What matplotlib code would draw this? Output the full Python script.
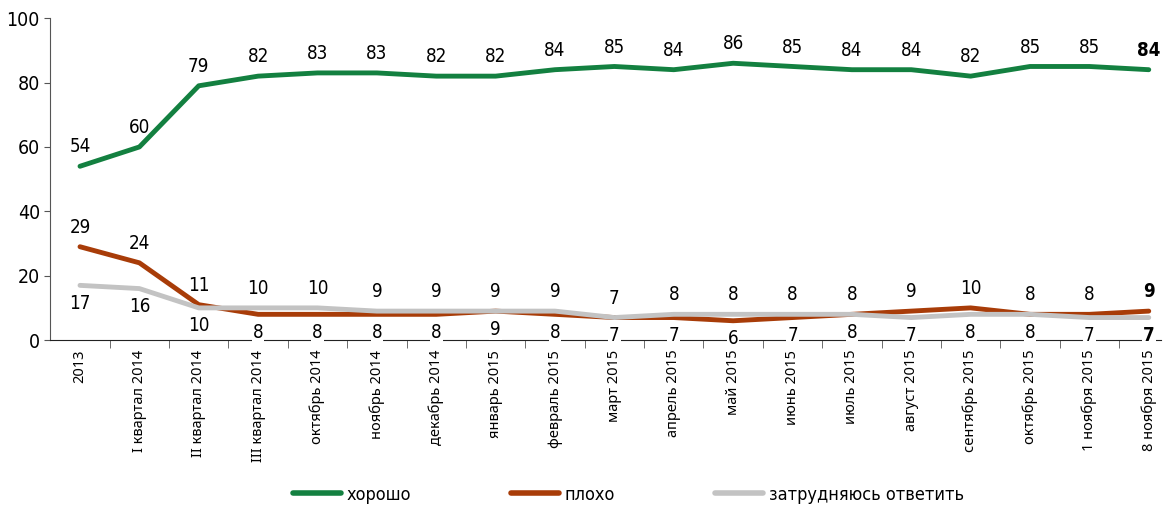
import matplotlib
matplotlib.use("Agg")
import matplotlib.pyplot as plt
import numpy as np

# data
periods = ["2013", "I квартал 2014", "II квартал 2014", "III квартал 2014",
           "октябрь 2014", "ноябрь 2014", "декабрь 2014", "январь 2015",
           "февраль 2015", "март 2015", "апрель 2015", "май 2015",
           "июнь 2015", "июль 2015", "август 2015", "сентябрь 2015",
           "октябрь 2015", "1 ноября 2015", "8 ноября 2015"]
good = [54, 60, 79, 82, 83, 83, 82, 82, 84, 85, 84, 86, 85, 84, 84, 82, 85, 85, 84]
bad = [29, 24, 11, 8, 8, 8, 8, 9, 8, 7, 7, 6, 7, 8, 9, 10, 8, 8, 9]
unsure = [17, 16, 10, 10, 10, 9, 9, 9, 9, 7, 8, 8, 8, 8, 7, 8, 8, 7, 7]

plt.rcParams["font.family"] = ["DejaVu Sans"]
plt.rcParams["font.stretch"] = "condensed"

fig = plt.figure(figsize=(11.7, 5.2), dpi=100)
ax = fig.add_axes([0.043, 0.346, 0.949, 0.619])

x = np.arange(len(periods))
ax.plot(x, good, color="#138040", lw=3.5, label="хорошо", solid_capstyle="round", zorder=3)
ax.plot(x, bad, color="#a83c08", lw=3.5, label="плохо", solid_capstyle="round", zorder=3)
ax.plot(x, unsure, color="#c3c3c3", lw=3.5, label="затрудняюсь ответить",
        solid_capstyle="round", zorder=4)

last = len(periods) - 1
lab = dict(ha="center", va="center", fontsize=13.5, textcoords="offset points",
           zorder=6)
for i in x:
    w = "bold" if i == last else "normal"
    ax.annotate(str(good[i]), (i, good[i]), xytext=(0, 14), fontweight=w, **lab)
    hi, lo = max(bad[i], unsure[i]), min(bad[i], unsure[i])
    ax.annotate(str(hi), (i, hi), xytext=(0, 14), fontweight=w, **lab)
    ax.annotate(str(lo), (i, lo), xytext=(0, -13), fontweight=w,
                bbox=dict(boxstyle="square,pad=0.05", fc="white", ec="none"),
                annotation_clip=False, **lab)

ax.set_ylim(0, 100)
ax.set_xlim(-0.5, 18.2)
ax.set_yticks(range(0, 101, 20))
ax.tick_params(axis="y", labelsize=14, length=4, color="#555555")
ax.spines["top"].set_visible(False)
ax.spines["right"].set_visible(False)
ax.spines["left"].set_color("#555555")
ax.spines["bottom"].set_color("#222222")

ax.set_xticks(x)
ax.set_xticklabels(periods, rotation=90, va="top", ha="center",
                   family=["Noto Sans", "DejaVu Sans"], fontsize=10.5,
                   fontstretch="normal")
ax.get_xticklabels()[last].set_fontweight("bold")
ax.tick_params(axis="x", length=0, pad=7)
ax.set_xticks(np.arange(0.5, 18, 1), minor=True)
ax.tick_params(axis="x", which="minor", length=6, color="#555555")

leg = fig.legend(loc="lower center", bbox_to_anchor=(0.537, 0.0), ncol=3, frameon=False,
                 fontsize=13, columnspacing=5.5, handlelength=2.7, handletextpad=0.3)
for h in leg.get_lines():
    h.set_linewidth(4)

fig.savefig("out.png", dpi=100)
